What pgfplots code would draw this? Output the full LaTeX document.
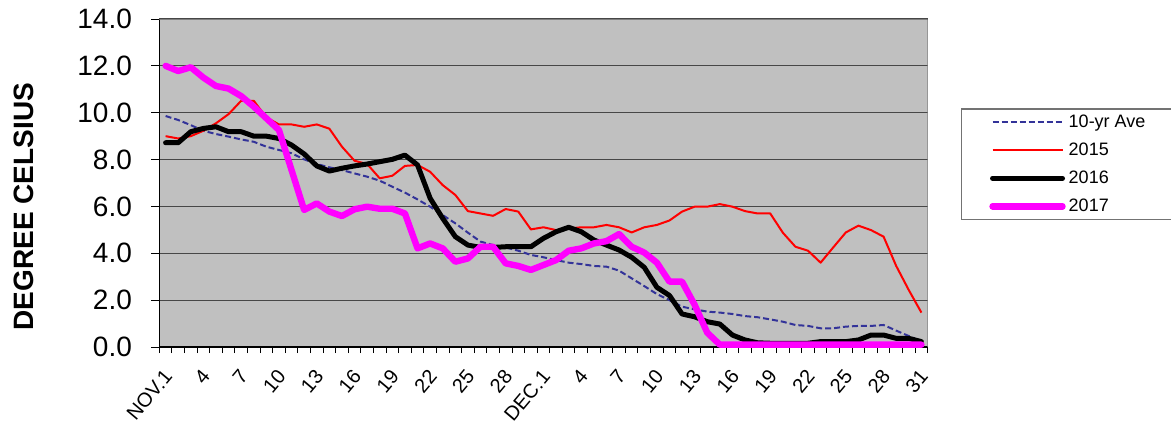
\documentclass[border=0pt]{standalone}
\usepackage{fontspec}
\setmainfont{Liberation Sans}
\usepackage{pgfplots}
\usepackage{pgfplotstable}
\pgfplotsset{compat=1.18}
\definecolor{avgblue}{HTML}{333399}
\definecolor{plotgray}{HTML}{C0C0C0}
\definecolor{magentaline}{HTML}{FF00FF}

\pgfplotstableread{
i avg y2015 y2016 y2017
0 9.86 9.00 8.72 12.00
1 9.69 8.90 8.72 11.78
2 9.47 9.00 9.19 11.94
3 9.23 9.23 9.33 11.50
4 9.09 9.55 9.40 11.14
5 8.98 9.94 9.19 11.03
6 8.86 10.51 9.19 10.71
7 8.76 10.51 9.00 10.26
8 8.55 9.80 9.00 9.76
9 8.41 9.50 8.90 9.26
10 8.27 9.50 8.62 7.55
11 8.01 9.40 8.24 5.85
12 7.81 9.50 7.73 6.13
13 7.67 9.32 7.51 5.78
14 7.55 8.55 7.63 5.59
15 7.41 7.95 7.73 5.88
16 7.27 7.81 7.81 5.99
17 7.10 7.20 7.91 5.90
18 6.84 7.31 8.01 5.90
19 6.59 7.73 8.19 5.70
20 6.30 7.77 7.77 4.21
21 5.99 7.48 6.35 4.42
22 5.63 6.91 5.49 4.21
23 5.28 6.49 4.71 3.64
24 4.88 5.80 4.35 3.78
25 4.50 5.70 4.25 4.28
26 4.35 5.60 4.25 4.28
27 4.25 5.89 4.28 3.57
28 4.11 5.78 4.28 3.46
29 3.93 5.02 4.28 3.29
30 3.83 5.11 4.64 3.50
31 3.71 4.99 4.92 3.71
32 3.60 5.06 5.11 4.11
33 3.54 5.11 4.92 4.21
34 3.46 5.11 4.57 4.42
35 3.43 5.21 4.35 4.52
36 3.26 5.11 4.14 4.82
37 2.93 4.89 3.83 4.28
38 2.60 5.11 3.40 4.03
39 2.26 5.21 2.55 3.60
40 2.00 5.40 2.20 2.79
41 1.72 5.78 1.41 2.79
42 1.61 5.99 1.29 1.80
43 1.51 5.99 1.08 0.61
44 1.47 6.10 0.98 0.10
45 1.41 5.99 0.51 0.10
46 1.32 5.80 0.30 0.10
47 1.27 5.70 0.18 0.10
48 1.18 5.70 0.16 0.10
49 1.08 4.88 0.16 0.10
50 0.94 4.28 0.16 0.10
51 0.90 4.11 0.16 0.10
52 0.80 3.60 0.23 0.10
53 0.80 4.25 0.23 0.10
54 0.87 4.89 0.23 0.10
55 0.90 5.18 0.30 0.10
56 0.90 4.99 0.51 0.10
57 0.94 4.71 0.51 0.10
58 0.70 3.46 0.37 0.10
59 0.47 2.43 0.37 0.10
60 0.23 1.47 0.23 0.10
}\datatable

\begin{document}
\begin{tikzpicture}
\useasboundingbox (-79.65pt,-47pt) rectangle (505.85pt,173.5pt);
\begin{axis}[
  at={(0pt,0pt)}, anchor=south west,
  scale only axis,
  width=384.2pt, height=164pt,
  xmin=-0.5, xmax=60.5, ymin=0, ymax=14,
  axis background/.style={fill=plotgray},
  axis x line*=bottom, axis y line*=left,
  axis line style={black, line width=0.6pt, -},
  tick align=outside,
  major tick length=4pt, minor tick length=3pt,
  every tick/.style={black, line width=0.5pt},
  ytick={0,2,...,14},
  ymajorgrids,
  major grid style={black!72, line width=0.6pt},
  xtick={0,3,...,60},
  xticklabels={NOV.1,4,7,10,13,16,19,22,25,28,DEC.1,4,7,10,13,16,19,22,25,28,31},
  major x tick style={draw=none},
  minor xtick={-0.5,0.5,...,60.5},
  xticklabel style={xshift=2pt, yshift=-8pt, rotate=50, anchor=east, font=\fontsize{10}{12}\selectfont, inner sep=1pt},
  yticklabel style={font=\fontsize{14}{16}\selectfont, inner sep=0pt, anchor=east, xshift=-9.5pt},
  /pgf/number format/.cd, fixed, fixed zerofill, precision=1, assume math mode=true,
  /pgfplots/.cd,
  ylabel={DEGREE CELSIUS},
  ylabel style={font=\bfseries\fontsize{14}{16}\selectfont, at={(axis description cs:-0.1761,0.428)}, anchor=center},
  legend style={at={(axis description cs:1.043,0.7277)}, anchor=north west,
    draw=black!55, line width=0.6pt, fill=white, font=\fontsize{9}{10.8}\selectfont,
    inner xsep=14pt, inner ysep=2.2pt, row sep=5pt,
    nodes={inner sep=0pt, text height=7pt, text depth=2pt}},
  legend cell align=left,
  legend image code/.code={\draw[#1] (-1.5pt,0pt) -- (33.5pt,0pt);},
]
\addplot[avgblue, line width=1pt, dash pattern=on 3pt off 1.5pt] table[x=i, y=avg] {\datatable};
\addlegendentry{\,10-yr Ave}
\addplot[red, line width=1pt, line join=round] table[x=i, y=y2015] {\datatable};
\addlegendentry{\,2015}
\addplot[black, line width=2.5pt, line join=round, line cap=round] table[x=i, y=y2016] {\datatable};
\addlegendentry{\,2016}
\addplot[magentaline, line width=3.2pt, line join=round, line cap=round] table[x=i, y=y2017] {\datatable};
\addlegendentry{\,2017}
\draw[black!50, line width=1pt] (rel axis cs:0,1) -- (rel axis cs:1,1) -- (rel axis cs:1,0);
\end{axis}
\end{tikzpicture}
\end{document}
